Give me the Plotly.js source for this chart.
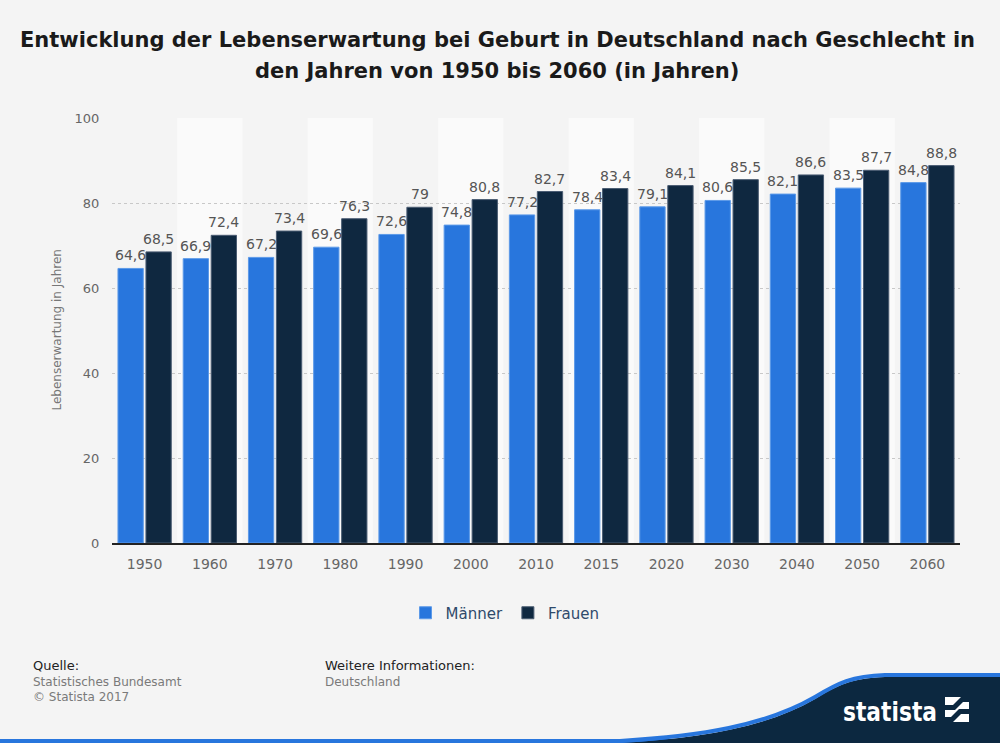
<!DOCTYPE html>
<html>
<head>
<meta charset="utf-8">
<script src="https://cdn.plot.ly/plotly-3.0.1.min.js"></script>
<style>
  html, body { margin: 0; padding: 0; background: #f4f4f4; }
  #wrap { position: relative; width: 1000px; height: 743px; overflow: hidden; }
  #chart { position: absolute; left: 0; top: 0; width: 1000px; height: 743px; }
  #logo { position: absolute; left: 0; top: 0; pointer-events: none; }
</style>
</head>
<body>
<div id="wrap">
  <div id="chart"></div>
  <svg id="logo" width="1000" height="743" viewBox="0 0 1000 743">
    <rect x="0" y="739" width="1000" height="4" fill="#2876dd"/>
    <path d="M 620 743 C 700 738, 765 728, 815 699 C 838 685, 852 678, 885 677 L 1000 677 L 1000 743 Z" fill="#0c2840"/>
    <path d="M 620 741 C 700 736, 765 726, 815 697 C 838 683, 852 676, 885 675 L 1000 675" fill="none" stroke="#2876dd" stroke-width="4"/>
    <text x="843" y="721" fill="#ffffff" font-family="DejaVu Sans" font-weight="bold" font-size="27" textLength="94" lengthAdjust="spacingAndGlyphs">statista</text>
    <rect x="945" y="697" width="24" height="25" fill="#ffffff"/>
    <path d="M 945 710 L 955 710 L 963 702 L 969 702 L 969 697 L 961 697 L 953 705 L 945 705 Z" fill="#0c2840"/>
    <path d="M 945 722 L 945 717 L 951 717 L 959 709 L 969 709 L 969 714 L 961 714 L 953 722 Z" fill="#0c2840"/>
  </svg>
</div>
<script>
const years = ["1950","1960","1970","1980","1990","2000","2010","2015","2020","2030","2040","2050","2060"];
const maenner = [64.6, 66.9, 67.2, 69.6, 72.6, 74.8, 77.2, 78.4, 79.1, 80.6, 82.1, 83.5, 84.8];
const frauen  = [68.5, 72.4, 73.4, 76.3, 79, 80.8, 82.7, 83.4, 84.1, 85.5, 86.6, 87.7, 88.8];
const seriesNames = ["Männer", "Frauen"];
const titleLines = ["Entwicklung der Lebenserwartung bei Geburt in Deutschland nach Geschlecht in", "den Jahren von 1950 bis 2060 (in Jahren)"];
const yTitle = "Lebenserwartung in Jahren";

const W = 1000, H = 743;
const M = {l: 112, r: 40, t: 118, b: 200};
const PW = W - M.l - M.r, PH = H - M.t - M.b;
const px = x => (x - M.l) / PW;
const py = y => (H - M.b - y) / PH;
const BARGAP = 0.142, GROUPGAP = 0.096;

const font = "DejaVu Sans, Verdana, sans-serif";
const fmt = v => String(v).replace(".", ",");

const traces = [
  {
    type: "bar", name: seriesNames[0], x: years, y: maenner,
    marker: {color: "#2876dd", line: {color: "#5c9ae8", width: 1}},
    hoverinfo: "x+y"
  },
  {
    type: "bar", name: seriesNames[1], x: years, y: frauen,
    marker: {color: "#0f2840", line: {color: "#4a5c72", width: 1}},
    hoverinfo: "x+y"
  }
];

const shapes = [];
years.forEach((yr, i) => {
  if (i % 2 === 1) {
    shapes.push({type: "rect", xref: "x", yref: "paper", x0: i - 0.5, x1: i + 0.5, y0: 0, y1: 1,
      fillcolor: "#fafafa", line: {width: 0}, layer: "below"});
  }
});

const annotations = [
  {text: "<b>" + titleLines[0] + "</b>", x: px(497), y: py(40)},
  {text: "<b>" + titleLines[1] + "</b>", x: px(497), y: py(71)}
].map(a => Object.assign(a, {xref: "paper", yref: "paper", xanchor: "center", yanchor: "middle",
  showarrow: false, font: {family: font, size: 21, color: "#1a1a1a"}}));

// value labels above bars (category index on the x axis, value on the y axis)
const slot = PW / years.length * (1 - BARGAP) / 2;
[maenner, frauen].forEach((series, s) => {
  series.forEach((v, i) => {
    annotations.push({text: fmt(v), xref: "x", yref: "y", x: i, y: v,
      xshift: (s - 0.5) * slot, yshift: 3, xanchor: "center", yanchor: "bottom", showarrow: false,
      font: {family: font, size: 14, color: "#555555"}});
  });
});

const footer = [
  {text: "Quelle:", x: 31, y: 665, size: 13, color: "#222222"},
  {text: "Statistisches Bundesamt", x: 31, y: 682, size: 12, color: "#7a7a7a"},
  {text: "© Statista 2017", x: 31, y: 697, size: 12, color: "#7a7a7a"},
  {text: "Weitere Informationen:", x: 323, y: 665, size: 13, color: "#222222"},
  {text: "Deutschland", x: 323, y: 682, size: 12, color: "#7a7a7a"}
];
footer.forEach(f => annotations.push({text: f.text, xref: "paper", yref: "paper", x: px(f.x), y: py(f.y),
  xanchor: "left", yanchor: "middle", showarrow: false, font: {family: font, size: f.size, color: f.color}}));

annotations.push({text: yTitle, xref: "paper", yref: "paper", x: px(56), y: 0.5, textangle: -90,
  xanchor: "center", yanchor: "middle", showarrow: false, font: {family: font, size: 12, color: "#777777"}});

const layout = {
  width: W, height: H,
  margin: M,
  paper_bgcolor: "#f4f4f4", plot_bgcolor: "#f4f4f4",
  barmode: "group", bargap: BARGAP, bargroupgap: GROUPGAP,
  separators: ",.",
  showlegend: true,
  legend: {orientation: "h", x: px(505), y: py(613), xanchor: "center", yanchor: "middle",
    font: {family: font, size: 15, color: "#2f4a6b"}, bgcolor: "rgba(0,0,0,0)"},
  xaxis: {type: "category", range: [-0.5, years.length - 0.5], autorange: false,
    showgrid: false, zeroline: false, showline: true, linecolor: "#222222", linewidth: 1.5,
    ticks: "outside", ticklen: 8, tickcolor: "rgba(0,0,0,0)",
    tickfont: {family: font, size: 14, color: "#666666"}, fixedrange: true},
  yaxis: {range: [0, 100], tickvals: [0, 20, 40, 60, 80, 100], showgrid: true, gridcolor: "#c8c8c8", griddash: "dot",
    gridwidth: 1, zeroline: false, showline: false, ticks: "outside", ticklen: 9, tickcolor: "rgba(0,0,0,0)",
    tickfont: {family: font, size: 13, color: "#666666"}, fixedrange: true},
  shapes: shapes,
  annotations: annotations
};

Plotly.newPlot("chart", traces, layout, {displayModeBar: false, staticPlot: true});
</script>
</body>
</html>
